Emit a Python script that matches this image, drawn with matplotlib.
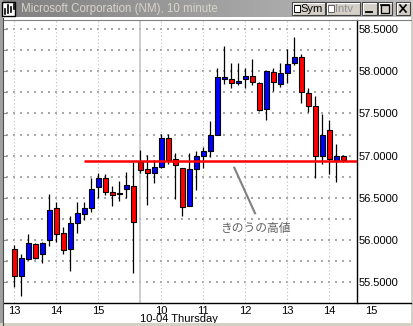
import matplotlib
matplotlib.use("Agg")
import matplotlib.pyplot as plt
import numpy as np
from matplotlib.patches import Rectangle
from matplotlib.lines import Line2D

plt.rcParams['font.family'] = ['Liberation Sans', 'Noto Sans CJK JP', 'DejaVu Sans']

# ---- data (10-minute bars, MSFT) ----
opens  = [55.89, 55.58, 55.78, 55.95, 55.83, 56.00, 56.38, 56.08, 55.90, 56.20, 56.31, 56.38,
          56.63, 56.73, 56.57, 56.55, 56.60, 56.64,
          56.92, 56.84, 56.79, 56.87, 57.21, 56.96, 56.86, 56.40, 56.84, 57.00, 57.05, 57.25,
          57.91, 57.91, 57.86, 57.91, 57.94, 57.86, 57.55, 57.99, 57.85, 57.98, 58.10, 58.17,
          57.74, 57.59, 57.00, 57.30, 56.94, 57.00]
highs  = [55.94, 55.84, 56.07, 55.96, 55.98, 56.55, 56.45, 56.16, 56.28, 56.45, 56.45, 56.74,
          56.80, 56.78, 56.64, 56.70, 56.81, 56.93,
          57.07, 57.01, 56.95, 57.26, 57.26, 57.03, 56.86, 57.03, 57.05, 57.10, 57.41, 58.04,
          58.30, 58.10, 58.10, 58.04, 58.14, 57.87, 58.00, 58.04, 58.10, 58.27, 58.41, 58.21,
          57.80, 57.71, 57.49, 57.42, 57.14, 57.01]
lows   = [55.44, 55.34, 55.76, 55.78, 55.73, 55.93, 55.98, 55.84, 55.63, 56.09, 56.24, 56.33,
          56.50, 56.53, 56.40, 56.46, 56.50, 55.61,
          56.80, 56.42, 56.68, 56.85, 56.90, 56.49, 56.28, 56.40, 56.59, 56.85, 56.98, 57.25,
          57.85, 57.80, 57.84, 57.80, 57.84, 57.53, 57.42, 57.77, 57.81, 57.86, 58.07, 57.63,
          57.52, 56.74, 56.90, 56.78, 56.69, 56.93]
closes = [55.58, 55.79, 55.96, 55.79, 55.96, 56.36, 56.07, 55.88, 56.20, 56.32, 56.38, 56.61,
          56.73, 56.57, 56.54, 56.55, 56.65, 56.22,
          56.83, 56.80, 56.87, 57.21, 56.95, 56.89, 56.39, 56.84, 57.00, 57.06, 57.25, 57.93,
          57.93, 57.86, 57.88, 57.94, 57.87, 57.54, 58.00, 57.87, 57.98, 58.09, 58.17, 57.75,
          57.59, 57.00, 57.25, 56.96, 57.00, 56.95]

xtick_pos = [0, 6, 12, 21, 27, 33, 39, 45, 51]
xtick_labels = ['13', '14', '15', '10', '11', '12', '13', '14', '15']
day_break = 18
day_label = '10-04 Thursday'
ytick_vals = [55.5, 56.0, 56.5, 57.0, 57.5, 58.0, 58.5]
ytick_labels = ['55.5000', '56.0000', '56.5000', '57.0000', '57.5000', '58.0000', '58.5000']
ygrid_vals = [55.5 + 0.25 * k for k in range(13)]
prev_high = 56.94
prev_high_start = 10
annot_text = 'きのうの高値'
title = 'Microsoft Corporation (NM), 10 minute'

W, H = 414, 326
fig = plt.figure(figsize=(W / 100, H / 100), dpi=100)
fig.patch.set_facecolor('white')

def fx(x): return x / W
def fy(y): return 1 - y / H

# plot axes
L, R, T, B = 4, 357, 20, 303.3
ax = fig.add_axes([fx(L), fy(B), fx(R) - fx(L), fy(T) - fy(B)])
ax.set_xlim(-1.471, 48.957)
ax.set_ylim(55.2512, 58.6078)
ax.set_facecolor('white')
for s in ['left', 'top']:
    ax.spines[s].set_visible(False)
ax.spines['right'].set_color('black')
ax.spines['right'].set_linewidth(1.0)
ax.spines['bottom'].set_visible(False)

# grid
n = len(opens)
gx = np.arange(-1, 49)
for g in ygrid_vals:
    ax.scatter(gx, np.full(len(gx), g), s=0.8, color='#a8a8a8', marker='s', linewidths=0, zorder=1)
    ax.plot([-1.471, -1.2], [g, g], color='#909090', lw=0.8, zorder=1)
for p in xtick_pos:
    if p < 49:
        ax.axvline(p, color='#c0c0c0', lw=0.8, linestyle=(0, (1, 2.2)), zorder=1)
ax.axvline(day_break, color='#c0c0c0', lw=1.1, zorder=1)

# candles
x = np.arange(n)
o = np.array(opens); c = np.array(closes)
ax.vlines(x, lows, highs, color='black', lw=0.9, zorder=2)
cols = ['#0000ff' if cc > oo else '#ff0000' for oo, cc in zip(o, c)]
bot = np.minimum(o, c)
hgt = np.maximum(np.abs(c - o), 0.004)
ax.bar(x, hgt, bottom=bot, width=0.64, color=cols, edgecolor='black', linewidth=0.8, zorder=3)

# previous high line
ax.plot([prev_high_start, 48.957], [prev_high, prev_high], color='#ff0000', lw=1.8, zorder=4,
        solid_capstyle='butt')
ax.plot([31.43, 34.39], [56.858, 56.318], color='#808080', lw=1.5, zorder=4)
ax.text(34.49, 56.14, annot_text, ha='center', va='center', fontsize=8.5, color='#606060',
        family=['Noto Sans CJK JP'])

# y tick labels
ax.set_yticks(ytick_vals)
ax.set_yticklabels(ytick_labels)
ax.yaxis.tick_right()
ax.tick_params(axis='y', length=0, pad=1.5, labelsize=8, labelcolor='black')
ax.set_xticks([])

# x labels
trans = ax.get_xaxis_transform()
for p, lab in zip(xtick_pos, xtick_labels):
    ax.text(p, (B - 310.5) / (B - T), lab, transform=trans, ha='center',
            va='center', fontsize=8, clip_on=False)
ax.text(day_break, (B - 319) / (B - T), day_label, transform=trans, ha='left', va='center',
        fontsize=8, clip_on=False)

# bottom axis line extending to right edge
fig.add_artist(Line2D([fx(4), fx(411)], [fy(B), fy(B)], color='black', lw=1.0))
# top border line
fig.add_artist(Line2D([fx(3), fx(411)], [fy(19.5), fy(19.5)], color='#808080', lw=0.8))

# window frame
fig.add_artist(Rectangle((0, 0), fx(3), 1, transform=fig.transFigure, facecolor='#a0a0a0',
                         edgecolor='none'))
fig.add_artist(Line2D([fx(3), fx(3)], [0, fy(18)], color='#505050', lw=0.8))
fig.add_artist(Rectangle((0, 0), 1, fy(323), transform=fig.transFigure, facecolor='#d4d0c8',
                         edgecolor='none'))
fig.add_artist(Rectangle((fx(411), 0), 1 - fx(411), 1, transform=fig.transFigure,
                         facecolor='#d4d0c8', edgecolor='none'))

# title bar with gradient
tax = fig.add_axes([0, fy(17.5), 1, fy(0) - fy(17.5)])
grad = np.linspace(0, 1, 256)
c1 = np.array([128, 128, 128]) / 255; c2 = np.array([190, 190, 190]) / 255
img = (c1[None, :] + grad[:, None] * (c2 - c1)[None, :])[None, :, :]
tax.imshow(img, aspect='auto', extent=[0, 1, 0, 1])
tax.set_axis_off()
fig.text(fx(21), fy(9), title, ha='left', va='center', fontsize=8.3, color='#d8d4cc')

# icon
fig.add_artist(Rectangle((fx(2), fy(16)), fx(15) - fx(2), fy(2) - fy(16), transform=fig.transFigure,
                         facecolor='white', edgecolor='black', lw=1.0))
for (xa, ya, yb) in [(5, 9, 14), (8, 5, 13), (11, 7, 12), (14, 4, 9)]:
    fig.add_artist(Line2D([fx(xa), fx(xa)], [fy(ya), fy(yb)], color='black', lw=1.2))

# buttons
def button(x0, x1, y0=2, y1=15):
    fig.add_artist(Rectangle((fx(x0), fy(y1)), fx(x1) - fx(x0), fy(y0) - fy(y1),
                             transform=fig.transFigure, facecolor='#d4d0c8', edgecolor='#404040',
                             lw=0.8))
    fig.add_artist(Line2D([fx(x0 + 0.8), fx(x0 + 0.8), fx(x1 - 1)], [fy(y1 - 1), fy(y0 + 0.8), fy(y0 + 0.8)],
                          color='white', lw=0.8))

button(292, 325)
fig.add_artist(Rectangle((fx(294), fy(12)), fx(300) - fx(294), fy(5) - fy(12), transform=fig.transFigure,
                         facecolor='white', edgecolor='black', lw=0.7))
fig.text(fx(300.5), fy(8.8), 'Sym', ha='left', va='center', fontsize=8, color='black')
button(326, 360)
fig.add_artist(Rectangle((fx(328), fy(12)), fx(334) - fx(328), fy(5) - fy(12), transform=fig.transFigure,
                         facecolor='white', edgecolor='#606060', lw=0.7))
fig.text(fx(335), fy(8.8), 'Intv', ha='left', va='center', fontsize=8, color='#909090')
button(362, 377)
fig.add_artist(Line2D([fx(366), fx(372)], [fy(12), fy(12)], color='black', lw=1.3))
button(378, 392)
fig.add_artist(Rectangle((fx(381), fy(12.5)), fx(389) - fx(381), fy(4.5) - fy(12.5), transform=fig.transFigure,
                         facecolor='none', edgecolor='black', lw=0.9))
fig.add_artist(Line2D([fx(381), fx(389)], [fy(5), fy(5)], color='black', lw=1.2))
button(396, 410)
fig.add_artist(Line2D([fx(400), fx(406)], [fy(5), fy(12)], color='black', lw=1.2))
fig.add_artist(Line2D([fx(400), fx(406)], [fy(12), fy(5)], color='black', lw=1.2))

fig.savefig('out.png', dpi=100)
